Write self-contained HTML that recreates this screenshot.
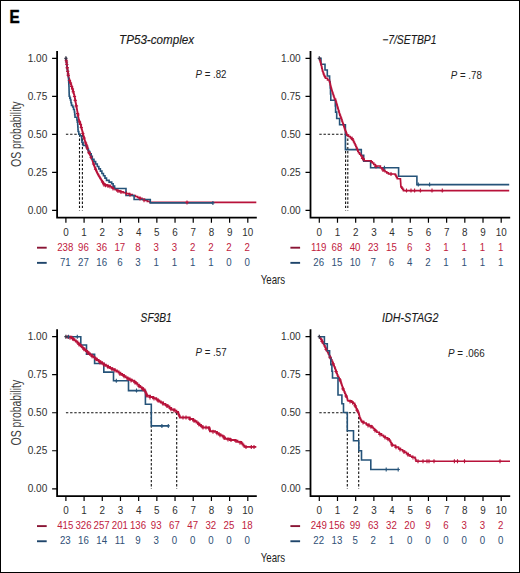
<!DOCTYPE html>
<html><head><meta charset="utf-8"><title>Kaplan-Meier OS curves</title>
<style>
html,body{margin:0;padding:0;background:#fff;}
body{width:520px;height:573px;overflow:hidden;}
svg{display:block;}
text{font-family:'Liberation Sans', sans-serif;}
.E{font-size:17.9px;font-weight:bold;fill:#000;stroke:#000;stroke-width:0.55px;}
.tl{font-size:11.2px;fill:#303030;}
.rr{font-size:11px;fill:#bf2140;}
.rb{font-size:11px;fill:#2f5076;}
.ti{font-size:12.3px;font-style:italic;fill:#1a1a1a;stroke:#1a1a1a;stroke-width:0.15px;}
.pv{font-size:11px;fill:#222;}
.yl{font-size:14.6px;fill:#3d3d3d;}
.yr{font-size:12.8px;fill:#222;}
</style></head>
<body><svg width="520" height="573" viewBox="0 0 520 573">
<rect x="0.5" y="0.5" width="519" height="572" fill="#fff" stroke="#000" stroke-width="1"/>
<text x="9.4" y="22.8" class="E" textLength="10.15" lengthAdjust="spacingAndGlyphs">E</text>
<path d="M57.1,50.9V217.7H256.8" fill="none" stroke="#000" stroke-width="1.8" stroke-linejoin="miter" stroke-linecap="butt"/>
<path d="M52.1,58.3H57.1M52.1,96.33H57.1M52.1,134.35H57.1M52.1,172.38H57.1M52.1,210.4H57.1M65.9,217.7V222.7M84.09,217.7V222.7M102.28,217.7V222.7M120.47,217.7V222.7M138.66,217.7V222.7M156.85,217.7V222.7M175.04,217.7V222.7M193.23,217.7V222.7M211.42,217.7V222.7M229.61,217.7V222.7M247.8,217.7V222.7" stroke="#000" stroke-width="1.2" fill="none"/>
<text x="47.3" y="61.9" text-anchor="end" class="tl" textLength="19.6" lengthAdjust="spacingAndGlyphs">1.00</text>
<text x="47.3" y="99.92" text-anchor="end" class="tl" textLength="19.6" lengthAdjust="spacingAndGlyphs">0.75</text>
<text x="47.3" y="137.95" text-anchor="end" class="tl" textLength="19.6" lengthAdjust="spacingAndGlyphs">0.50</text>
<text x="47.3" y="175.97" text-anchor="end" class="tl" textLength="19.6" lengthAdjust="spacingAndGlyphs">0.25</text>
<text x="47.3" y="214" text-anchor="end" class="tl" textLength="19.6" lengthAdjust="spacingAndGlyphs">0.00</text>
<text transform="translate(65.9,235.6) scale(0.88,1)" text-anchor="middle" class="tl">0</text>
<text transform="translate(84.09,235.6) scale(0.88,1)" text-anchor="middle" class="tl">1</text>
<text transform="translate(102.28,235.6) scale(0.88,1)" text-anchor="middle" class="tl">2</text>
<text transform="translate(120.47,235.6) scale(0.88,1)" text-anchor="middle" class="tl">3</text>
<text transform="translate(138.66,235.6) scale(0.88,1)" text-anchor="middle" class="tl">4</text>
<text transform="translate(156.85,235.6) scale(0.88,1)" text-anchor="middle" class="tl">5</text>
<text transform="translate(175.04,235.6) scale(0.88,1)" text-anchor="middle" class="tl">6</text>
<text transform="translate(193.23,235.6) scale(0.88,1)" text-anchor="middle" class="tl">7</text>
<text transform="translate(211.42,235.6) scale(0.88,1)" text-anchor="middle" class="tl">8</text>
<text transform="translate(229.61,235.6) scale(0.88,1)" text-anchor="middle" class="tl">9</text>
<text transform="translate(247.8,235.6) scale(0.88,1)" text-anchor="middle" class="tl">10</text>
<text transform="translate(65.3,250.7) scale(0.88,1)" text-anchor="middle" class="rr">238</text>
<text transform="translate(65.3,265.9) scale(0.88,1)" text-anchor="middle" class="rb">71</text>
<text transform="translate(83.49,250.7) scale(0.88,1)" text-anchor="middle" class="rr">96</text>
<text transform="translate(83.49,265.9) scale(0.88,1)" text-anchor="middle" class="rb">27</text>
<text transform="translate(101.68,250.7) scale(0.88,1)" text-anchor="middle" class="rr">36</text>
<text transform="translate(101.68,265.9) scale(0.88,1)" text-anchor="middle" class="rb">16</text>
<text transform="translate(119.87,250.7) scale(0.88,1)" text-anchor="middle" class="rr">17</text>
<text transform="translate(119.87,265.9) scale(0.88,1)" text-anchor="middle" class="rb">6</text>
<text transform="translate(138.06,250.7) scale(0.88,1)" text-anchor="middle" class="rr">8</text>
<text transform="translate(138.06,265.9) scale(0.88,1)" text-anchor="middle" class="rb">3</text>
<text transform="translate(156.25,250.7) scale(0.88,1)" text-anchor="middle" class="rr">3</text>
<text transform="translate(156.25,265.9) scale(0.88,1)" text-anchor="middle" class="rb">1</text>
<text transform="translate(174.44,250.7) scale(0.88,1)" text-anchor="middle" class="rr">3</text>
<text transform="translate(174.44,265.9) scale(0.88,1)" text-anchor="middle" class="rb">1</text>
<text transform="translate(192.63,250.7) scale(0.88,1)" text-anchor="middle" class="rr">2</text>
<text transform="translate(192.63,265.9) scale(0.88,1)" text-anchor="middle" class="rb">1</text>
<text transform="translate(210.82,250.7) scale(0.88,1)" text-anchor="middle" class="rr">2</text>
<text transform="translate(210.82,265.9) scale(0.88,1)" text-anchor="middle" class="rb">1</text>
<text transform="translate(229.01,250.7) scale(0.88,1)" text-anchor="middle" class="rr">2</text>
<text transform="translate(229.01,265.9) scale(0.88,1)" text-anchor="middle" class="rb">0</text>
<text transform="translate(247.2,250.7) scale(0.88,1)" text-anchor="middle" class="rr">2</text>
<text transform="translate(247.2,265.9) scale(0.88,1)" text-anchor="middle" class="rb">0</text>
<path d="M37,247.7H46.7" stroke="#8a1535" stroke-width="1.9"/>
<path d="M37,262.85H46.7" stroke="#1f456b" stroke-width="1.9"/>
<text x="156.55" y="43.5" text-anchor="middle" class="ti" textLength="75.0" lengthAdjust="spacingAndGlyphs">TP53-complex</text>
<text x="211" y="77.6" text-anchor="middle" class="pv" textLength="31.0" lengthAdjust="spacingAndGlyphs"><tspan font-style="italic">P</tspan> = .82</text>
<text transform="translate(21,134.2) rotate(-90)" text-anchor="middle" class="yl" textLength="65.6" lengthAdjust="spacingAndGlyphs">OS probability</text>
<path d="M65.9,134.3H82.4" stroke="#111" stroke-width="1.1" stroke-dasharray="2.4 1.8" fill="none"/>
<path d="M79.5,134.3V210.4M82.4,134.3V210.4" stroke="#111" stroke-width="1.1" stroke-dasharray="2.4 1.8" fill="none"/>
<path d="M65.9,58.3L66.04,58.3L66.04,59.24L66.18,59.24L66.18,60.18L66.32,60.18L66.32,61.12L66.46,61.12L66.46,62.06L66.6,62.06L66.6,63L66.73,63L66.73,64L66.86,64L66.86,65L66.99,65L66.99,66L67.11,66L67.11,67L67.24,67L67.24,68L67.37,68L67.37,69L67.5,69L67.5,70L67.65,70L67.65,71.04L67.8,71.04L67.8,72.08L67.95,72.08L67.95,73.11L68.1,73.11L68.1,74.15L68.25,74.15L68.25,75.19L68.4,75.19L68.4,76.22L68.55,76.22L68.55,77.26L68.7,77.26L68.7,78.3L69.08,78.3L69.08,79.35L69.47,79.35L69.47,80.4L69.85,80.4L69.85,81.45L70.23,81.45L70.23,82.5L70.62,82.5L70.62,83.55L71,83.55L71,84.6L71.34,84.6L71.34,85.68L71.68,85.68L71.68,86.76L72.02,86.76L72.02,87.84L72.36,87.84L72.36,88.92L72.7,88.92L72.7,90L72.98,90L72.98,91L73.27,91L73.27,92L73.55,92L73.55,93L73.83,93L73.83,94L74.12,94L74.12,95L74.4,95L74.4,96L74.58,96L74.58,97L74.77,97L74.77,98L74.95,98L74.95,99L75.13,99L75.13,100L75.32,100L75.32,101L75.5,101L75.5,102L75.69,102L75.69,103L75.88,103L75.88,104L76.06,104L76.06,105L76.25,105L76.25,106L76.44,106L76.44,107L76.62,107L76.62,108L76.81,108L76.81,109L77,109L77,110L77.17,110L77.17,111L77.34,111L77.34,112L77.51,112L77.51,113L77.69,113L77.69,114L77.86,114L77.86,115L78.03,115L78.03,116L78.2,116L78.2,117L78.4,117L78.4,118L78.6,118L78.6,119L78.8,119L78.8,120L79.2,120L79.2,121.08L79.6,121.08L79.6,122.16L80,122.16L80,123.24L80.4,123.24L80.4,124.32L80.8,124.32L80.8,125.4L81.05,125.4L81.05,126.42L81.3,126.42L81.3,127.43L81.55,127.43L81.55,128.45L81.8,128.45L81.8,129.47L82.05,129.47L82.05,130.48L82.3,130.48L82.3,131.5L82.54,131.5L82.54,132.44L82.78,132.44L82.78,133.38L83.02,133.38L83.02,134.32L83.26,134.32L83.26,135.26L83.5,135.26L83.5,136.2L83.8,136.2L83.8,137.26L84.1,137.26L84.1,138.32L84.4,138.32L84.4,139.38L84.7,139.38L84.7,140.44L85,140.44L85,141.5L85.38,141.5L85.38,142.47L85.75,142.47L85.75,143.45L86.12,143.45L86.12,144.43L86.5,144.43L86.5,145.4L86.82,145.4L86.82,146.48L87.14,146.48L87.14,147.56L87.46,147.56L87.46,148.64L87.78,148.64L87.78,149.72L88.1,149.72L88.1,150.8L88.57,150.8L88.57,151.75L89.05,151.75L89.05,152.7L89.53,152.7L89.53,153.65L90,153.65L90,154.6L90.38,154.6L90.38,155.57L90.75,155.57L90.75,156.55L91.12,156.55L91.12,157.53L91.5,157.53L91.5,158.5L92,158.5L92,159.75L92.5,159.75L92.5,161L92.83,161L92.83,162L93.17,162L93.17,163L93.5,163L93.5,164L93.83,164L93.83,165L94.17,165L94.17,166L94.5,166L94.5,167L94.97,167L94.97,168.08L95.43,168.08L95.43,169.17L95.9,169.17L95.9,170.25L96.37,170.25L96.37,171.33L96.83,171.33L96.83,172.42L97.3,172.42L97.3,173.5L97.83,173.5L97.83,174.42L98.37,174.42L98.37,175.33L98.9,175.33L98.9,176.25L99.43,176.25L99.43,177.17L99.97,177.17L99.97,178.08L100.5,178.08L100.5,179L101.12,179L101.12,179.97L101.73,179.97L101.73,180.93L102.35,180.93L102.35,181.9L102.97,181.9L102.97,182.87L103.58,182.87L103.58,183.83L104.2,183.83L104.2,184.8L107.1,184.8L107.1,185.65L110,185.65L110,186.5L111.72,186.5L111.72,187.57L113.45,187.57L113.45,188.65L115.18,188.65L115.18,189.73L116.9,189.73L116.9,190.8L120,190.8L120,191.7L123.1,191.7L123.1,192.6L126.2,192.6L126.2,193.5L129.27,193.5L129.27,194.5L132.33,194.5L132.33,195.5L135.4,195.5L135.4,196.5L137.6,196.5L137.6,197.43L139.8,197.43L139.8,198.37L142,198.37L142,199.3L144.67,199.3L144.67,200.33L147.33,200.33L147.33,201.37L150,201.37L150,202.4L256.3,202.4" stroke="#b8123a" stroke-width="1.6" fill="none" stroke-linejoin="miter"/>
<path d="M65.9,58.3L66.18,58.3L66.18,60.72L66.45,60.72L66.45,63.15L66.72,63.15L66.72,65.58L67,65.58L67,68L67.3,68L67.3,70L67.6,70L67.6,72L67.9,72L67.9,74L68.2,74L68.2,76L68.5,76L68.5,78L68.6,78L68.6,80L68.7,80L68.7,82L68.8,82L68.8,84L68.9,84L68.9,86L69,86L69,88L69.05,88L69.05,90.05L69.1,90.05L69.1,92.1L69.15,92.1L69.15,94.15L69.2,94.15L69.2,96.2L69.8,96.2L69.8,98.1L70.4,98.1L70.4,100L70.95,100L70.95,102.7L71.5,102.7L71.5,105.4L72.7,105.4L72.7,107L73.55,107L73.55,109.5L74.4,109.5L74.4,112L74.7,112L74.7,114.65L75,114.65L75,117.3L76.9,117.3L76.9,120L77.3,120L77.3,122.3L77.7,122.3L77.7,124.6L77.83,124.6L77.83,126.9L77.97,126.9L77.97,129.2L78.1,129.2L78.1,131.5L78.8,131.5L78.8,134.2L80,134.2L80,135.8L81.5,135.8L81.5,136.9L81.7,136.9L81.7,139.6L81.9,139.6L81.9,142.3L83.1,142.3L83.1,145.4L86.2,145.4L86.2,146.9L87.35,146.9L87.35,149.2L88.5,149.2L88.5,151.5L89.85,151.5L89.85,153.85L91.2,153.85L91.2,156.2L92.3,156.2L92.3,159.2L93.97,159.2L93.97,161.63L95.63,161.63L95.63,164.07L97.3,164.07L97.3,166.5L98.83,166.5L98.83,168.83L100.37,168.83L100.37,171.17L101.9,171.17L101.9,173.5L103.43,173.5L103.43,175.8L104.97,175.8L104.97,178.1L106.5,178.1L106.5,180.4L109.1,180.4L109.1,182.1L111.7,182.1L111.7,183.8L113.15,183.8L113.15,186.15L114.6,186.15L114.6,188.5L126,188.5L126,189.2L126,195.5L134.1,195.5L134.1,199.5L150.3,199.5L150.3,202.9L212.9,202.9" stroke="#255379" stroke-width="1.6" fill="none" stroke-linejoin="miter"/>
<path d="M66.2,58.31V62.31M64.6,60.31H67.8M66.8,62.56V66.56M65.2,64.56H68.4M67.2,65.67V69.67M65.6,67.67H68.8M67.7,69.38V73.38M66.1,71.38H69.3M68.3,73.53V77.53M66.7,75.53H69.9M69.5,78.49V82.49M67.9,80.49H71.1M71.6,84.51V88.51M70,86.51H73.2M73.2,89.76V93.76M71.6,91.76H74.8M75.2,98.36V102.36M73.6,100.36H76.8M76.2,103.73V107.73M74.6,105.73H77.8M77.6,111.5V115.5M76,113.5H79.2M79.5,119.89V123.89M77.9,121.89H81.1M81.3,125.43V129.43M79.7,127.43H82.9M82.8,131.46V135.46M81.2,133.46H84.4M85.6,141.06V145.06M84,143.06H87.2M87.3,146.1V150.1M85.7,148.1H88.9M89,150.6V154.6M87.4,152.6H90.6M91,155.2V159.2M89.4,157.2H92.6M95.5,167.32V171.32M93.9,169.32H97.1M102.5,180V184M100.9,182H104.1M105.5,183.2V187.2M103.9,185.2H107.1M110,184.5V188.5M108.4,186.5H111.6M118,189V193M116.4,191H119.6M121,189.9V193.9M119.4,191.9H122.6M130,192.7V196.7M128.4,194.7H131.6M144,198.2V202.2M142.4,200.2H145.6M187,200.4V204.4M185.4,202.4H188.6M66.5,60V64M64.9,62H68.1M67.3,66V70M65.7,68H68.9M68.2,72V76M66.6,74H69.8M70.5,81V85M68.9,83H72.1M72.5,87V91M70.9,89H74.1M74.5,94.5V98.5M72.9,96.5H76.1M76.5,104V108M74.9,106H78.1M78,113V117M76.4,115H79.6M80.5,122.5V126.5M78.9,124.5H82.1M84,136V140M82.4,138H85.6M86.8,144V148M85.2,146H88.4M89.5,151.5V155.5M87.9,153.5H91.1M93.5,162V166M91.9,164H95.1M104,182.7V186.7M102.4,184.7H105.6M108,184V188M106.4,186H109.6M113,186.5V190.5M111.4,188.5H114.6M126.5,191.6V195.6M124.9,193.6H128.1M140,196.6V200.6M138.4,198.6H141.6" stroke="#b8123a" stroke-width="1.1"/>
<path d="M212.9,200.9V204.9M211.3,202.9H214.5" stroke="#255379" stroke-width="1.1"/>
<path d="M65.9,56.3V60.3M64.3,58.3H67.5" stroke="#3a3a4a" stroke-width="1.3"/>
<path d="M310.5,50.9V217.7H510.2" fill="none" stroke="#000" stroke-width="1.8" stroke-linejoin="miter" stroke-linecap="butt"/>
<path d="M305.5,58.3H310.5M305.5,96.33H310.5M305.5,134.35H310.5M305.5,172.38H310.5M305.5,210.4H310.5M319.3,217.7V222.7M337.49,217.7V222.7M355.68,217.7V222.7M373.87,217.7V222.7M392.06,217.7V222.7M410.25,217.7V222.7M428.44,217.7V222.7M446.63,217.7V222.7M464.82,217.7V222.7M483.01,217.7V222.7M501.2,217.7V222.7" stroke="#000" stroke-width="1.2" fill="none"/>
<text x="300.7" y="61.9" text-anchor="end" class="tl" textLength="19.6" lengthAdjust="spacingAndGlyphs">1.00</text>
<text x="300.7" y="99.92" text-anchor="end" class="tl" textLength="19.6" lengthAdjust="spacingAndGlyphs">0.75</text>
<text x="300.7" y="137.95" text-anchor="end" class="tl" textLength="19.6" lengthAdjust="spacingAndGlyphs">0.50</text>
<text x="300.7" y="175.97" text-anchor="end" class="tl" textLength="19.6" lengthAdjust="spacingAndGlyphs">0.25</text>
<text x="300.7" y="214" text-anchor="end" class="tl" textLength="19.6" lengthAdjust="spacingAndGlyphs">0.00</text>
<text transform="translate(319.3,235.6) scale(0.88,1)" text-anchor="middle" class="tl">0</text>
<text transform="translate(337.49,235.6) scale(0.88,1)" text-anchor="middle" class="tl">1</text>
<text transform="translate(355.68,235.6) scale(0.88,1)" text-anchor="middle" class="tl">2</text>
<text transform="translate(373.87,235.6) scale(0.88,1)" text-anchor="middle" class="tl">3</text>
<text transform="translate(392.06,235.6) scale(0.88,1)" text-anchor="middle" class="tl">4</text>
<text transform="translate(410.25,235.6) scale(0.88,1)" text-anchor="middle" class="tl">5</text>
<text transform="translate(428.44,235.6) scale(0.88,1)" text-anchor="middle" class="tl">6</text>
<text transform="translate(446.63,235.6) scale(0.88,1)" text-anchor="middle" class="tl">7</text>
<text transform="translate(464.82,235.6) scale(0.88,1)" text-anchor="middle" class="tl">8</text>
<text transform="translate(483.01,235.6) scale(0.88,1)" text-anchor="middle" class="tl">9</text>
<text transform="translate(501.2,235.6) scale(0.88,1)" text-anchor="middle" class="tl">10</text>
<text transform="translate(318.7,250.7) scale(0.88,1)" text-anchor="middle" class="rr">119</text>
<text transform="translate(318.7,265.9) scale(0.88,1)" text-anchor="middle" class="rb">26</text>
<text transform="translate(336.89,250.7) scale(0.88,1)" text-anchor="middle" class="rr">68</text>
<text transform="translate(336.89,265.9) scale(0.88,1)" text-anchor="middle" class="rb">15</text>
<text transform="translate(355.08,250.7) scale(0.88,1)" text-anchor="middle" class="rr">40</text>
<text transform="translate(355.08,265.9) scale(0.88,1)" text-anchor="middle" class="rb">10</text>
<text transform="translate(373.27,250.7) scale(0.88,1)" text-anchor="middle" class="rr">23</text>
<text transform="translate(373.27,265.9) scale(0.88,1)" text-anchor="middle" class="rb">7</text>
<text transform="translate(391.46,250.7) scale(0.88,1)" text-anchor="middle" class="rr">15</text>
<text transform="translate(391.46,265.9) scale(0.88,1)" text-anchor="middle" class="rb">6</text>
<text transform="translate(409.65,250.7) scale(0.88,1)" text-anchor="middle" class="rr">6</text>
<text transform="translate(409.65,265.9) scale(0.88,1)" text-anchor="middle" class="rb">4</text>
<text transform="translate(427.84,250.7) scale(0.88,1)" text-anchor="middle" class="rr">3</text>
<text transform="translate(427.84,265.9) scale(0.88,1)" text-anchor="middle" class="rb">2</text>
<text transform="translate(446.03,250.7) scale(0.88,1)" text-anchor="middle" class="rr">1</text>
<text transform="translate(446.03,265.9) scale(0.88,1)" text-anchor="middle" class="rb">1</text>
<text transform="translate(464.22,250.7) scale(0.88,1)" text-anchor="middle" class="rr">1</text>
<text transform="translate(464.22,265.9) scale(0.88,1)" text-anchor="middle" class="rb">1</text>
<text transform="translate(482.41,250.7) scale(0.88,1)" text-anchor="middle" class="rr">1</text>
<text transform="translate(482.41,265.9) scale(0.88,1)" text-anchor="middle" class="rb">1</text>
<text transform="translate(500.6,250.7) scale(0.88,1)" text-anchor="middle" class="rr">1</text>
<text transform="translate(500.6,265.9) scale(0.88,1)" text-anchor="middle" class="rb">1</text>
<path d="M290.4,247.7H300.1" stroke="#8a1535" stroke-width="1.9"/>
<path d="M290.4,262.85H300.1" stroke="#1f456b" stroke-width="1.9"/>
<text x="409.35" y="43.5" text-anchor="middle" class="ti" textLength="54.3" lengthAdjust="spacingAndGlyphs">−7/SETBP1</text>
<text x="466.3" y="78.5" text-anchor="middle" class="pv" textLength="31.0" lengthAdjust="spacingAndGlyphs"><tspan font-style="italic">P</tspan> = .78</text>
<path d="M319.3,134.3H347.8" stroke="#111" stroke-width="1.1" stroke-dasharray="2.4 1.8" fill="none"/>
<path d="M345.6,134.3V210.4M347.8,134.3V210.4" stroke="#111" stroke-width="1.1" stroke-dasharray="2.4 1.8" fill="none"/>
<path d="M319.3,58.3L321,58.3L321,64.2L325,64.2L325,70L327.3,70L327.3,76L329.6,76L329.6,82L330.2,82L330.2,88L330.5,88L330.5,94L330.8,94L330.8,100.2L335.3,100.2L335.3,106L335.6,106L335.6,112.1L336.7,112.1L336.7,118.5L339.6,118.5L339.6,124.8L345.4,124.8L345.4,149.6L361.3,149.6L361.3,155.3L363.7,155.3L363.7,161.3L370.6,161.3L370.6,167.7L398.6,167.7L398.6,176.2L416.9,176.2L416.9,184.6L509.2,184.6" stroke="#255379" stroke-width="1.6" fill="none" stroke-linejoin="miter"/>
<path d="M319.3,58.3L319.65,58.3L319.65,59.6L320,59.6L320,60.9L320.35,60.9L320.35,62.2L320.7,62.2L320.7,63.5L321.1,63.5L321.1,65.15L321.5,65.15L321.5,66.8L321.83,66.8L321.83,68.27L322.17,68.27L322.17,69.73L322.5,69.73L322.5,71.2L323,71.2L323,72.67L323.5,72.67L323.5,74.13L324,74.13L324,75.6L324.75,75.6L324.75,76.9L325.5,76.9L325.5,78.2L327.5,78.2L327.5,80L329.4,80L329.4,81.2L329.72,81.2L329.72,82.56L330.04,82.56L330.04,83.92L330.36,83.92L330.36,85.28L330.68,85.28L330.68,86.64L331,86.64L331,88L331.38,88L331.38,89.25L331.75,89.25L331.75,90.5L332.12,90.5L332.12,91.75L332.5,91.75L332.5,93L333,93L333,94.53L333.5,94.53L333.5,96.05L334,96.05L334,97.57L334.5,97.57L334.5,99.1L335.5,99.1L335.5,100.5L335.94,100.5L335.94,102.02L336.38,102.02L336.38,103.54L336.82,103.54L336.82,105.06L337.26,105.06L337.26,106.58L337.7,106.58L337.7,108.1L338.12,108.1L338.12,109.5L338.54,109.5L338.54,110.9L338.96,110.9L338.96,112.3L339.38,112.3L339.38,113.7L339.8,113.7L339.8,115.1L340.35,115.1L340.35,116.62L340.9,116.62L340.9,118.15L341.45,118.15L341.45,119.67L342,119.67L342,121.2L342.45,121.2L342.45,122.5L342.9,122.5L342.9,123.8L343.35,123.8L343.35,125.1L343.8,125.1L343.8,126.4L344.23,126.4L344.23,127.7L344.65,127.7L344.65,129L345.07,129L345.07,130.3L345.5,130.3L345.5,131.6L346.15,131.6L346.15,133.35L346.8,133.35L346.8,135.1L348.55,135.1L348.55,136.45L350.3,136.45L350.3,137.8L351.6,137.8L351.6,139.1L352.9,139.1L352.9,140.4L353.63,140.4L353.63,141.93L354.37,141.93L354.37,143.47L355.1,143.47L355.1,145L355.78,145L355.78,146.54L356.46,146.54L356.46,148.08L357.14,148.08L357.14,149.62L357.82,149.62L357.82,151.16L358.5,151.16L358.5,152.7L359.63,152.7L359.63,154.23L360.77,154.23L360.77,155.77L361.9,155.77L361.9,157.3L363.05,157.3L363.05,159.05L364.2,159.05L364.2,160.8L370,160.8L371.15,160.8L371.15,161.9L372.3,161.9L372.3,163L373.75,163L373.75,164.5L375.2,164.5L375.2,166L380.4,166L380.4,167.7L381.93,167.7L381.93,169.03L383.47,169.03L383.47,170.37L385,170.37L385,171.7L386.75,171.7L386.75,172.85L388.5,172.85L388.5,174L395,174L395,174.6L395.77,174.6L395.77,176L396.53,176L396.53,177.4L397.3,177.4L397.3,178.8L400.4,178.8L400.4,179.6L400.5,179.6L400.5,181.06L400.6,181.06L400.6,182.52L400.7,182.52L400.7,183.98L400.8,183.98L400.8,185.44L400.9,185.44L400.9,186.9L401.77,186.9L401.77,188.13L402.63,188.13L402.63,189.37L403.5,189.37L403.5,190.6L509.2,190.6" stroke="#b8123a" stroke-width="1.6" fill="none" stroke-linejoin="miter"/>
<path d="M406.5,188.6V192.6M404.9,190.6H408.1M411,188.6V192.6M409.4,190.6H412.6M414.6,188.6V192.6M413,190.6H416.2M420.4,188.6V192.6M418.8,190.6H422M432,188.6V192.6M430.4,190.6H433.6M442.3,188.6V192.6M440.7,190.6H443.9M352,136.5V140.5M350.4,138.5H353.6M362.5,156.5V160.5M360.9,158.5H364.1M376,164.5V168.5M374.4,166.5H377.6M383,168V172M381.4,170H384.6M391,172V176M389.4,174H392.6" stroke="#b8123a" stroke-width="1.1"/>
<path d="M384.4,165.7V169.7M382.8,167.7H386M418.3,182.6V186.6M416.7,184.6H419.9M429.6,182.6V186.6M428,184.6H431.2" stroke="#255379" stroke-width="1.1"/>
<path d="M319.3,56.3V60.3M317.7,58.3H320.9" stroke="#3a3a4a" stroke-width="1.3"/>
<path d="M57.1,329.3V496.1H256.8" fill="none" stroke="#000" stroke-width="1.8" stroke-linejoin="miter" stroke-linecap="butt"/>
<path d="M52.1,336.7H57.1M52.1,374.72H57.1M52.1,412.75H57.1M52.1,450.77H57.1M52.1,488.8H57.1M65.9,496.1V501.1M84.09,496.1V501.1M102.28,496.1V501.1M120.47,496.1V501.1M138.66,496.1V501.1M156.85,496.1V501.1M175.04,496.1V501.1M193.23,496.1V501.1M211.42,496.1V501.1M229.61,496.1V501.1M247.8,496.1V501.1" stroke="#000" stroke-width="1.2" fill="none"/>
<text x="47.3" y="340.3" text-anchor="end" class="tl" textLength="19.6" lengthAdjust="spacingAndGlyphs">1.00</text>
<text x="47.3" y="378.32" text-anchor="end" class="tl" textLength="19.6" lengthAdjust="spacingAndGlyphs">0.75</text>
<text x="47.3" y="416.35" text-anchor="end" class="tl" textLength="19.6" lengthAdjust="spacingAndGlyphs">0.50</text>
<text x="47.3" y="454.38" text-anchor="end" class="tl" textLength="19.6" lengthAdjust="spacingAndGlyphs">0.25</text>
<text x="47.3" y="492.4" text-anchor="end" class="tl" textLength="19.6" lengthAdjust="spacingAndGlyphs">0.00</text>
<text transform="translate(65.9,514) scale(0.88,1)" text-anchor="middle" class="tl">0</text>
<text transform="translate(84.09,514) scale(0.88,1)" text-anchor="middle" class="tl">1</text>
<text transform="translate(102.28,514) scale(0.88,1)" text-anchor="middle" class="tl">2</text>
<text transform="translate(120.47,514) scale(0.88,1)" text-anchor="middle" class="tl">3</text>
<text transform="translate(138.66,514) scale(0.88,1)" text-anchor="middle" class="tl">4</text>
<text transform="translate(156.85,514) scale(0.88,1)" text-anchor="middle" class="tl">5</text>
<text transform="translate(175.04,514) scale(0.88,1)" text-anchor="middle" class="tl">6</text>
<text transform="translate(193.23,514) scale(0.88,1)" text-anchor="middle" class="tl">7</text>
<text transform="translate(211.42,514) scale(0.88,1)" text-anchor="middle" class="tl">8</text>
<text transform="translate(229.61,514) scale(0.88,1)" text-anchor="middle" class="tl">9</text>
<text transform="translate(247.8,514) scale(0.88,1)" text-anchor="middle" class="tl">10</text>
<text transform="translate(65.3,529.1) scale(0.88,1)" text-anchor="middle" class="rr">415</text>
<text transform="translate(65.3,544.3) scale(0.88,1)" text-anchor="middle" class="rb">23</text>
<text transform="translate(83.49,529.1) scale(0.88,1)" text-anchor="middle" class="rr">326</text>
<text transform="translate(83.49,544.3) scale(0.88,1)" text-anchor="middle" class="rb">16</text>
<text transform="translate(101.68,529.1) scale(0.88,1)" text-anchor="middle" class="rr">257</text>
<text transform="translate(101.68,544.3) scale(0.88,1)" text-anchor="middle" class="rb">14</text>
<text transform="translate(119.87,529.1) scale(0.88,1)" text-anchor="middle" class="rr">201</text>
<text transform="translate(119.87,544.3) scale(0.88,1)" text-anchor="middle" class="rb">11</text>
<text transform="translate(138.06,529.1) scale(0.88,1)" text-anchor="middle" class="rr">136</text>
<text transform="translate(138.06,544.3) scale(0.88,1)" text-anchor="middle" class="rb">9</text>
<text transform="translate(156.25,529.1) scale(0.88,1)" text-anchor="middle" class="rr">93</text>
<text transform="translate(156.25,544.3) scale(0.88,1)" text-anchor="middle" class="rb">3</text>
<text transform="translate(174.44,529.1) scale(0.88,1)" text-anchor="middle" class="rr">67</text>
<text transform="translate(174.44,544.3) scale(0.88,1)" text-anchor="middle" class="rb">0</text>
<text transform="translate(192.63,529.1) scale(0.88,1)" text-anchor="middle" class="rr">47</text>
<text transform="translate(192.63,544.3) scale(0.88,1)" text-anchor="middle" class="rb">0</text>
<text transform="translate(210.82,529.1) scale(0.88,1)" text-anchor="middle" class="rr">32</text>
<text transform="translate(210.82,544.3) scale(0.88,1)" text-anchor="middle" class="rb">0</text>
<text transform="translate(229.01,529.1) scale(0.88,1)" text-anchor="middle" class="rr">25</text>
<text transform="translate(229.01,544.3) scale(0.88,1)" text-anchor="middle" class="rb">0</text>
<text transform="translate(247.2,529.1) scale(0.88,1)" text-anchor="middle" class="rr">18</text>
<text transform="translate(247.2,544.3) scale(0.88,1)" text-anchor="middle" class="rb">0</text>
<path d="M37,526.1H46.7" stroke="#8a1535" stroke-width="1.9"/>
<path d="M37,541.25H46.7" stroke="#1f456b" stroke-width="1.9"/>
<text x="156.15" y="321.9" text-anchor="middle" class="ti" textLength="31.1" lengthAdjust="spacingAndGlyphs">SF3B1</text>
<text x="211.1" y="356" text-anchor="middle" class="pv" textLength="31.0" lengthAdjust="spacingAndGlyphs"><tspan font-style="italic">P</tspan> = .57</text>
<text transform="translate(21,412.6) rotate(-90)" text-anchor="middle" class="yl" textLength="65.6" lengthAdjust="spacingAndGlyphs">OS probability</text>
<path d="M65.9,412.7H176.7" stroke="#111" stroke-width="1.1" stroke-dasharray="2.4 1.8" fill="none"/>
<path d="M151.3,412.7V488.8M176.7,412.7V488.8" stroke="#111" stroke-width="1.1" stroke-dasharray="2.4 1.8" fill="none"/>
<path d="M65.9,336.7L80.8,336.7L80.8,345L86.5,345L86.5,354.2L94.6,354.2L94.6,363.5L103.8,363.5L103.8,372.1L113.5,372.1L113.5,380.8L128.5,380.8L128.5,390.6L145.4,390.6L145.4,404.3L151.3,404.3L151.3,425.9L168.3,425.9" stroke="#255379" stroke-width="1.6" fill="none" stroke-linejoin="miter"/>
<path d="M65.9,336.7L71.5,336.7L71.5,338.1L72.95,338.1L72.95,339.25L74.4,339.25L74.4,340.4L75.85,340.4L75.85,341.55L77.3,341.55L77.3,342.7L78.46,342.7L78.46,343.86L79.62,343.86L79.62,345.02L80.78,345.02L80.78,346.18L81.94,346.18L81.94,347.34L83.1,347.34L83.1,348.5L84.48,348.5L84.48,349.76L85.86,349.76L85.86,351.02L87.24,351.02L87.24,352.28L88.62,352.28L88.62,353.54L90,353.54L90,354.8L91.72,354.8L91.72,356.1L93.45,356.1L93.45,357.4L95.18,357.4L95.18,358.7L96.9,358.7L96.9,360L98.62,360L98.62,361.15L100.35,361.15L100.35,362.3L102.08,362.3L102.08,363.45L103.8,363.45L103.8,364.6L105.87,364.6L105.87,365.77L107.93,365.77L107.93,366.93L110,366.93L110,368.1L112.3,368.1L112.3,369.23L114.6,369.23L114.6,370.37L116.9,370.37L116.9,371.5L118.63,371.5L118.63,372.67L120.37,372.67L120.37,373.83L122.1,373.83L122.1,375L123.83,375L123.83,376.17L125.57,376.17L125.57,377.33L127.3,377.33L127.3,378.5L129.6,378.5L129.6,379.63L131.9,379.63L131.9,380.77L134.2,380.77L134.2,381.9L135.73,381.9L135.73,383.27L137.27,383.27L137.27,384.63L138.8,384.63L138.8,386L140.25,386L140.25,387.15L141.7,387.15L141.7,388.3L143.15,388.3L143.15,389.45L144.6,389.45L144.6,390.6L145.18,390.6L145.18,391.9L145.75,391.9L145.75,393.2L146.32,393.2L146.32,394.5L146.9,394.5L146.9,395.8L150,395.8L150,397L153.1,397L153.1,398.2L156.2,398.2L156.2,399.4L157.73,399.4L157.73,400.43L159.27,400.43L159.27,401.47L160.8,401.47L160.8,402.5L163.1,402.5L163.1,403.83L165.4,403.83L165.4,405.17L167.7,405.17L167.7,406.5L169.45,406.5L169.45,407.95L171.2,407.95L171.2,409.4L174.6,409.4L174.6,410.6L176.35,410.6L176.35,412.05L178.1,412.05L178.1,413.5L178.67,413.5L178.67,414.83L179.23,414.83L179.23,416.17L179.8,416.17L179.8,417.5L186.2,417.5L189.65,417.5L189.65,418.95L193.1,418.95L193.1,420.4L195,420.4L195,421.3L196.5,421.3L196.5,422.54L198,422.54L198,423.78L199.5,423.78L199.5,425.02L201,425.02L201,426.26L202.5,426.26L202.5,427.5L208.8,427.5L209.2,427.5L209.2,428.77L209.6,428.77L209.6,430.03L210,430.03L210,431.3L215,431.3L215,431.9L216.9,431.9L216.9,433.15L218.8,433.15L218.8,434.4L220.65,434.4L220.65,435.35L222.5,435.35L222.5,436.3L223.75,436.3L223.75,437.55L225,437.55L225,438.8L230,438.8L230,440L235,440L235,440.6L237.5,440.6L237.5,441.9L241.3,441.9L241.3,443.1L242.33,443.1L242.33,444.37L243.37,444.37L243.37,445.63L244.4,445.63L244.4,446.9L256.3,446.9" stroke="#b8123a" stroke-width="1.9" fill="none" stroke-linejoin="miter"/>
<path d="M70,335.73V339.73M68.4,337.73H71.6M79,342.4V346.4M77.4,344.4H80.6M84,347.32V351.32M82.4,349.32H85.6M92,354.31V358.31M90.4,356.31H93.6M96,357.32V361.32M94.4,359.32H97.6M104,362.71V366.71M102.4,364.71H105.6M108,364.97V368.97M106.4,366.97H109.6M112,367.09V371.09M110.4,369.09H113.6M115,368.56V372.56M113.4,370.56H116.6M124,374.28V378.28M122.4,376.28H125.6M128,376.84V380.84M126.4,378.84H129.6M135,380.61V384.61M133.4,382.61H136.6M139,384.16V388.16M137.4,386.16H140.6M143,387.33V391.33M141.4,389.33H144.6M147,393.84V397.84M145.4,395.84H148.6M154,396.55V400.55M152.4,398.55H155.6M158,398.61V402.61M156.4,400.61H159.6M167,404.09V408.09M165.4,406.09H168.6M171,407.23V411.23M169.4,409.23H172.6M174,408.39V412.39M172.4,410.39H175.6M186,415.5V419.5M184.4,417.5H187.6M190,417.1V421.1M188.4,419.1H191.6M194,418.83V422.83M192.4,420.83H195.6M203,425.5V429.5M201.4,427.5H204.6M209,426.13V430.13M207.4,428.13H210.6M217,431.22V435.22M215.4,433.22H218.6M224,435.8V439.8M222.4,437.8H225.6M231,438.12V442.12M229.4,440.12H232.6M240,440.69V444.69M238.4,442.69H241.6M246,444.9V448.9M244.4,446.9H247.6M254,444.9V448.9M252.4,446.9H255.6M68,335V339M66.4,337H69.6M73,337V341M71.4,339H74.6M88,351V355M86.4,353H89.6M100,360.5V364.5M98.4,362.5H101.6M120,372V376M118.4,374H121.6M131,378.5V382.5M129.4,380.5H132.6M150,395.5V399.5M148.4,397.5H151.6M163,401.8V405.8M161.4,403.8H164.6M183,415.5V419.5M181.4,417.5H184.6M199,422.5V426.5M197.4,424.5H200.6M206,425.5V429.5M204.4,427.5H207.6M213,429.7V433.7M211.4,431.7H214.6M220,433.2V437.2M218.4,435.2H221.6M228,437.6V441.6M226.4,439.6H229.6M236,439V443M234.4,441H237.6M251.3,444.9V448.9M249.7,446.9H252.9" stroke="#b8123a" stroke-width="1.1"/>
<path d="M68.5,334.7V338.7M66.9,336.7H70.1M77.3,334.7V338.7M75.7,336.7H78.9M116.3,378.8V382.8M114.7,380.8H117.9M136.5,388.6V392.6M134.9,390.6H138.1M161.9,423.9V427.9M160.3,425.9H163.5M168.3,423.9V427.9M166.7,425.9H169.9" stroke="#255379" stroke-width="1.1"/>
<path d="M65.9,334.7V338.7M64.3,336.7H67.5" stroke="#3a3a4a" stroke-width="1.3"/>
<path d="M310.5,329.3V496.1H510.2" fill="none" stroke="#000" stroke-width="1.8" stroke-linejoin="miter" stroke-linecap="butt"/>
<path d="M305.5,336.7H310.5M305.5,374.72H310.5M305.5,412.75H310.5M305.5,450.77H310.5M305.5,488.8H310.5M319.3,496.1V501.1M337.49,496.1V501.1M355.68,496.1V501.1M373.87,496.1V501.1M392.06,496.1V501.1M410.25,496.1V501.1M428.44,496.1V501.1M446.63,496.1V501.1M464.82,496.1V501.1M483.01,496.1V501.1M501.2,496.1V501.1" stroke="#000" stroke-width="1.2" fill="none"/>
<text x="300.7" y="340.3" text-anchor="end" class="tl" textLength="19.6" lengthAdjust="spacingAndGlyphs">1.00</text>
<text x="300.7" y="378.32" text-anchor="end" class="tl" textLength="19.6" lengthAdjust="spacingAndGlyphs">0.75</text>
<text x="300.7" y="416.35" text-anchor="end" class="tl" textLength="19.6" lengthAdjust="spacingAndGlyphs">0.50</text>
<text x="300.7" y="454.38" text-anchor="end" class="tl" textLength="19.6" lengthAdjust="spacingAndGlyphs">0.25</text>
<text x="300.7" y="492.4" text-anchor="end" class="tl" textLength="19.6" lengthAdjust="spacingAndGlyphs">0.00</text>
<text transform="translate(319.3,514) scale(0.88,1)" text-anchor="middle" class="tl">0</text>
<text transform="translate(337.49,514) scale(0.88,1)" text-anchor="middle" class="tl">1</text>
<text transform="translate(355.68,514) scale(0.88,1)" text-anchor="middle" class="tl">2</text>
<text transform="translate(373.87,514) scale(0.88,1)" text-anchor="middle" class="tl">3</text>
<text transform="translate(392.06,514) scale(0.88,1)" text-anchor="middle" class="tl">4</text>
<text transform="translate(410.25,514) scale(0.88,1)" text-anchor="middle" class="tl">5</text>
<text transform="translate(428.44,514) scale(0.88,1)" text-anchor="middle" class="tl">6</text>
<text transform="translate(446.63,514) scale(0.88,1)" text-anchor="middle" class="tl">7</text>
<text transform="translate(464.82,514) scale(0.88,1)" text-anchor="middle" class="tl">8</text>
<text transform="translate(483.01,514) scale(0.88,1)" text-anchor="middle" class="tl">9</text>
<text transform="translate(501.2,514) scale(0.88,1)" text-anchor="middle" class="tl">10</text>
<text transform="translate(318.7,529.1) scale(0.88,1)" text-anchor="middle" class="rr">249</text>
<text transform="translate(318.7,544.3) scale(0.88,1)" text-anchor="middle" class="rb">22</text>
<text transform="translate(336.89,529.1) scale(0.88,1)" text-anchor="middle" class="rr">156</text>
<text transform="translate(336.89,544.3) scale(0.88,1)" text-anchor="middle" class="rb">13</text>
<text transform="translate(355.08,529.1) scale(0.88,1)" text-anchor="middle" class="rr">99</text>
<text transform="translate(355.08,544.3) scale(0.88,1)" text-anchor="middle" class="rb">5</text>
<text transform="translate(373.27,529.1) scale(0.88,1)" text-anchor="middle" class="rr">63</text>
<text transform="translate(373.27,544.3) scale(0.88,1)" text-anchor="middle" class="rb">2</text>
<text transform="translate(391.46,529.1) scale(0.88,1)" text-anchor="middle" class="rr">32</text>
<text transform="translate(391.46,544.3) scale(0.88,1)" text-anchor="middle" class="rb">1</text>
<text transform="translate(409.65,529.1) scale(0.88,1)" text-anchor="middle" class="rr">20</text>
<text transform="translate(409.65,544.3) scale(0.88,1)" text-anchor="middle" class="rb">0</text>
<text transform="translate(427.84,529.1) scale(0.88,1)" text-anchor="middle" class="rr">9</text>
<text transform="translate(427.84,544.3) scale(0.88,1)" text-anchor="middle" class="rb">0</text>
<text transform="translate(446.03,529.1) scale(0.88,1)" text-anchor="middle" class="rr">6</text>
<text transform="translate(446.03,544.3) scale(0.88,1)" text-anchor="middle" class="rb">0</text>
<text transform="translate(464.22,529.1) scale(0.88,1)" text-anchor="middle" class="rr">3</text>
<text transform="translate(464.22,544.3) scale(0.88,1)" text-anchor="middle" class="rb">0</text>
<text transform="translate(482.41,529.1) scale(0.88,1)" text-anchor="middle" class="rr">3</text>
<text transform="translate(482.41,544.3) scale(0.88,1)" text-anchor="middle" class="rb">0</text>
<text transform="translate(500.6,529.1) scale(0.88,1)" text-anchor="middle" class="rr">2</text>
<text transform="translate(500.6,544.3) scale(0.88,1)" text-anchor="middle" class="rb">0</text>
<path d="M290.4,526.1H300.1" stroke="#8a1535" stroke-width="1.9"/>
<path d="M290.4,541.25H300.1" stroke="#1f456b" stroke-width="1.9"/>
<text x="410.2" y="321.9" text-anchor="middle" class="ti" textLength="56.4" lengthAdjust="spacingAndGlyphs">IDH-STAG2</text>
<text x="466.3" y="356.9" text-anchor="middle" class="pv" textLength="36.8" lengthAdjust="spacingAndGlyphs"><tspan font-style="italic">P</tspan> = .066</text>
<path d="M319.3,412.7H358.7" stroke="#111" stroke-width="1.1" stroke-dasharray="2.4 1.8" fill="none"/>
<path d="M347.3,412.7V488.8M358.7,412.7V488.8" stroke="#111" stroke-width="1.1" stroke-dasharray="2.4 1.8" fill="none"/>
<path d="M319.3,336.7L320.03,336.7L320.03,337.93L320.77,337.93L320.77,339.17L321.5,339.17L321.5,340.4L322.2,340.4L322.2,341.78L322.9,341.78L322.9,343.16L323.6,343.16L323.6,344.54L324.3,344.54L324.3,345.92L325,345.92L325,347.3L325.7,347.3L325.7,348.68L326.4,348.68L326.4,350.06L327.1,350.06L327.1,351.44L327.8,351.44L327.8,352.82L328.5,352.82L328.5,354.2L329.18,354.2L329.18,355.6L329.86,355.6L329.86,357L330.54,357L330.54,358.4L331.22,358.4L331.22,359.8L331.9,359.8L331.9,361.2L332.48,361.2L332.48,362.58L333.06,362.58L333.06,363.96L333.64,363.96L333.64,365.34L334.22,365.34L334.22,366.72L334.8,366.72L334.8,368.1L335.28,368.1L335.28,369.45L335.77,369.45L335.77,370.8L336.25,370.8L336.25,372.15L336.73,372.15L336.73,373.5L337.22,373.5L337.22,374.85L337.7,374.85L337.7,376.2L338.43,376.2L338.43,377.62L339.15,377.62L339.15,379.05L339.88,379.05L339.88,380.47L340.6,380.47L340.6,381.9L341.02,381.9L341.02,383.12L341.43,383.12L341.43,384.33L341.85,384.33L341.85,385.55L342.27,385.55L342.27,386.77L342.68,386.77L342.68,387.98L343.1,387.98L343.1,389.2L343.67,389.2L343.67,390.53L344.24,390.53L344.24,391.86L344.81,391.86L344.81,393.19L345.39,393.19L345.39,394.51L345.96,394.51L345.96,395.84L346.53,395.84L346.53,397.17L347.1,397.17L347.1,398.5L347.4,398.5L347.4,399.65L347.7,399.65L347.7,400.8L351.2,400.8L351.2,401.9L352.9,401.9L352.9,403.35L354.6,403.35L354.6,404.8L355.18,404.8L355.18,406.1L355.75,406.1L355.75,407.4L356.32,407.4L356.32,408.7L356.9,408.7L356.9,410L357.5,410L357.5,411.17L358.1,411.17L358.1,412.33L358.7,412.33L358.7,413.5L358.98,413.5L358.98,414.65L359.25,414.65L359.25,415.8L359.52,415.8L359.52,416.95L359.8,416.95L359.8,418.1L360.37,418.1L360.37,419.23L360.93,419.23L360.93,420.37L361.5,420.37L361.5,421.5L363.85,421.5L363.85,422.95L366.2,422.95L366.2,424.4L369.05,424.4L369.05,425.85L371.9,425.85L371.9,427.3L373.15,427.3L373.15,428.55L374.4,428.55L374.4,429.8L375.65,429.8L375.65,431.05L376.9,431.05L376.9,432.3L379.2,432.3L379.2,433.85L381.5,433.85L381.5,435.4L383.43,435.4L383.43,436.55L385.35,436.55L385.35,437.7L387.27,437.7L387.27,438.85L389.2,438.85L389.2,440L389.98,440L389.98,441.35L390.75,441.35L390.75,442.7L391.52,442.7L391.52,444.05L392.3,444.05L392.3,445.4L395.4,445.4L395.4,446.95L398.5,446.95L398.5,448.5L400.53,448.5L400.53,449.77L402.57,449.77L402.57,451.03L404.6,451.03L404.6,452.3L406.4,452.3L406.4,453.6L408.2,453.6L408.2,454.9L410,454.9L410,456.2L412,456.2L412,457.2L415,457.2L415,458.2L415.5,458.2L415.5,459.7L416,459.7L416,461.2L510,461.2" stroke="#b8123a" stroke-width="1.6" fill="none" stroke-linejoin="miter"/>
<path d="M319.3,336.7L324.4,336.7L324.4,343.8L327.3,343.8L327.3,350.8L329.6,350.8L329.6,357.7L330.8,357.7L330.8,364.6L331.9,364.6L331.9,371.3L332.5,371.3L332.5,378L338,378L338,395L341.9,395L341.9,403.7L343.5,403.7L343.5,412.5L347.3,412.5L347.3,430.8L353.5,430.8L353.5,440.8L358.8,440.8L358.8,450.8L361.5,450.8L361.5,460L370.8,460L370.8,469.5L398.2,469.5" stroke="#255379" stroke-width="1.6" fill="none" stroke-linejoin="miter"/>
<path d="M322,339.39V343.39M320.4,341.39H323.6M326,347.27V351.27M324.4,349.27H327.6M330,355.29V359.29M328.4,357.29H331.6M333,361.82V365.82M331.4,363.82H334.6M336,369.45V373.45M334.4,371.45H337.6M343,386.91V390.91M341.4,388.91H344.6M346,393.94V397.94M344.4,395.94H347.6M350,399.52V403.52M348.4,401.52H351.6M355,403.7V407.7M353.4,405.7H356.6M357,408.19V412.19M355.4,410.19H358.6M363,420.43V424.43M361.4,422.43H364.6M371,424.84V428.84M369.4,426.84H372.6M375,428.4V432.4M373.4,430.4H376.6M380,432.39V436.39M378.4,434.39H381.6M388,437.28V441.28M386.4,439.28H389.6M392,442.88V446.88M390.4,444.88H393.6M396,445.25V449.25M394.4,447.25H397.6M404,449.93V453.93M402.4,451.93H405.6M408,452.76V456.76M406.4,454.76H409.6M413,455.53V459.53M411.4,457.53H414.6M418,459.2V463.2M416.4,461.2H419.6M423,459.2V463.2M421.4,461.2H424.6M427,459.2V463.2M425.4,461.2H428.6M429,459.2V463.2M427.4,461.2H430.6M434,459.2V463.2M432.4,461.2H435.6M454.4,459.2V463.2M452.8,461.2H456M457.5,459.2V463.2M455.9,461.2H459.1M464.5,459.2V463.2M462.9,461.2H466.1M500,459.2V463.2M498.4,461.2H501.6M340,378V382M338.4,380H341.6M352.5,400.5V404.5M350.9,402.5H354.1M368,423.5V427.5M366.4,425.5H369.6M385,435.5V439.5M383.4,437.5H386.6M400,447.5V451.5M398.4,449.5H401.6" stroke="#b8123a" stroke-width="1.1"/>
<path d="M386.2,467.5V471.5M384.6,469.5H387.8M398.2,467.5V471.5M396.6,469.5H399.8" stroke="#255379" stroke-width="1.1"/>
<path d="M319.3,334.7V338.7M317.7,336.7H320.9" stroke="#3a3a4a" stroke-width="1.3"/>
<text x="272.9" y="284" text-anchor="middle" class="yr" textLength="24.4" lengthAdjust="spacingAndGlyphs">Years</text>
<text x="272.9" y="562.4" text-anchor="middle" class="yr" textLength="24.4" lengthAdjust="spacingAndGlyphs">Years</text>
</svg></body></html>
